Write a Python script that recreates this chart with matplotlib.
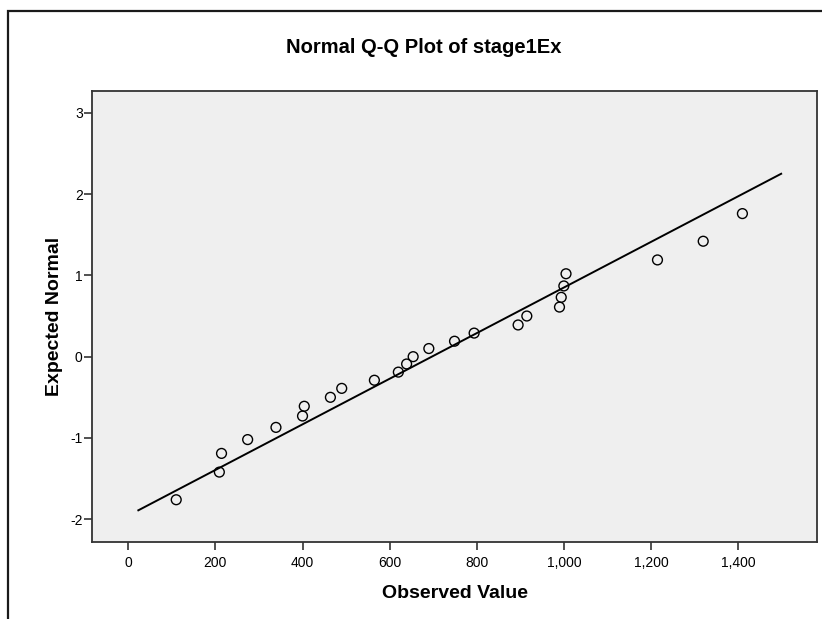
import matplotlib
matplotlib.use('Agg')
import matplotlib.pyplot as plt
import matplotlib.patches as patches
import numpy as np

# values
observed = [110, 209, 214, 274, 339, 400, 404, 464, 490, 565, 620, 639, 654,
            690, 749, 794, 895, 915, 990, 994, 1000, 1005, 1215, 1320, 1410]
expected = [-1.76, -1.42, -1.19, -1.02, -0.87, -0.73, -0.61, -0.50, -0.39,
            -0.29, -0.19, -0.09, 0.00, 0.10, 0.19, 0.29, 0.39, 0.50, 0.61,
            0.73, 0.87, 1.02, 1.19, 1.42, 1.76]
line_x = [23, 1499]
line_y = [-1.89, 2.25]
x_ticks = [0, 200, 400, 600, 800, 1000, 1200, 1400]
y_ticks = [-2, -1, 0, 1, 2, 3]

plt.rcParams['font.family'] = ['Liberation Sans', 'DejaVu Sans']
plt.rcParams['axes.unicode_minus'] = False

fig = plt.figure(figsize=(8.22, 6.19), dpi=100)
ax = fig.add_axes([0.1116, 0.1249, 0.8827, 0.7286])

# outer chart frame (runs off the right and bottom of the picture)
frame = patches.Rectangle((0.0101, -0.05), 1.2, 0.9827 + 0.05, transform=fig.transFigure,
                          fill=False, edgecolor='#1a1a1a', linewidth=1.6, clip_on=False)
fig.patches.append(frame)

ax.set_facecolor('#efefef')
ax.plot(line_x, line_y, color='black', linewidth=1.4)
ax.scatter(observed, expected, s=50, facecolors='none', edgecolors='black',
           linewidths=1.0, zorder=3)

ax.set_xlim(-84, 1582)
ax.set_ylim(-2.276, 3.272)
ax.set_xticks(x_ticks)
ax.set_xticklabels(['{:,}'.format(v) for v in x_ticks])
ax.set_yticks(y_ticks)
ax.tick_params(axis='both', direction='out', length=6, width=1.1, color='#222222',
               labelsize=10, pad=3)
ax.tick_params(axis='x', pad=4)
ax.tick_params(axis='y', pad=0.5)
for sp in ax.spines.values():
    sp.set_color('#333333')
    sp.set_linewidth(1.3)

ax.set_xlabel('Observed Value', fontsize=14, fontweight='bold', labelpad=11)
ax.set_ylabel('Expected Normal', fontsize=14, fontweight='bold')
ax.yaxis.set_label_coords(-0.0396, 0.5)
fig.text(0.515, 0.924, 'Normal Q-Q Plot of stage1Ex', ha='center', va='center',
         fontsize=14.5, fontweight='bold')

fig.savefig('out.png', dpi=100)
